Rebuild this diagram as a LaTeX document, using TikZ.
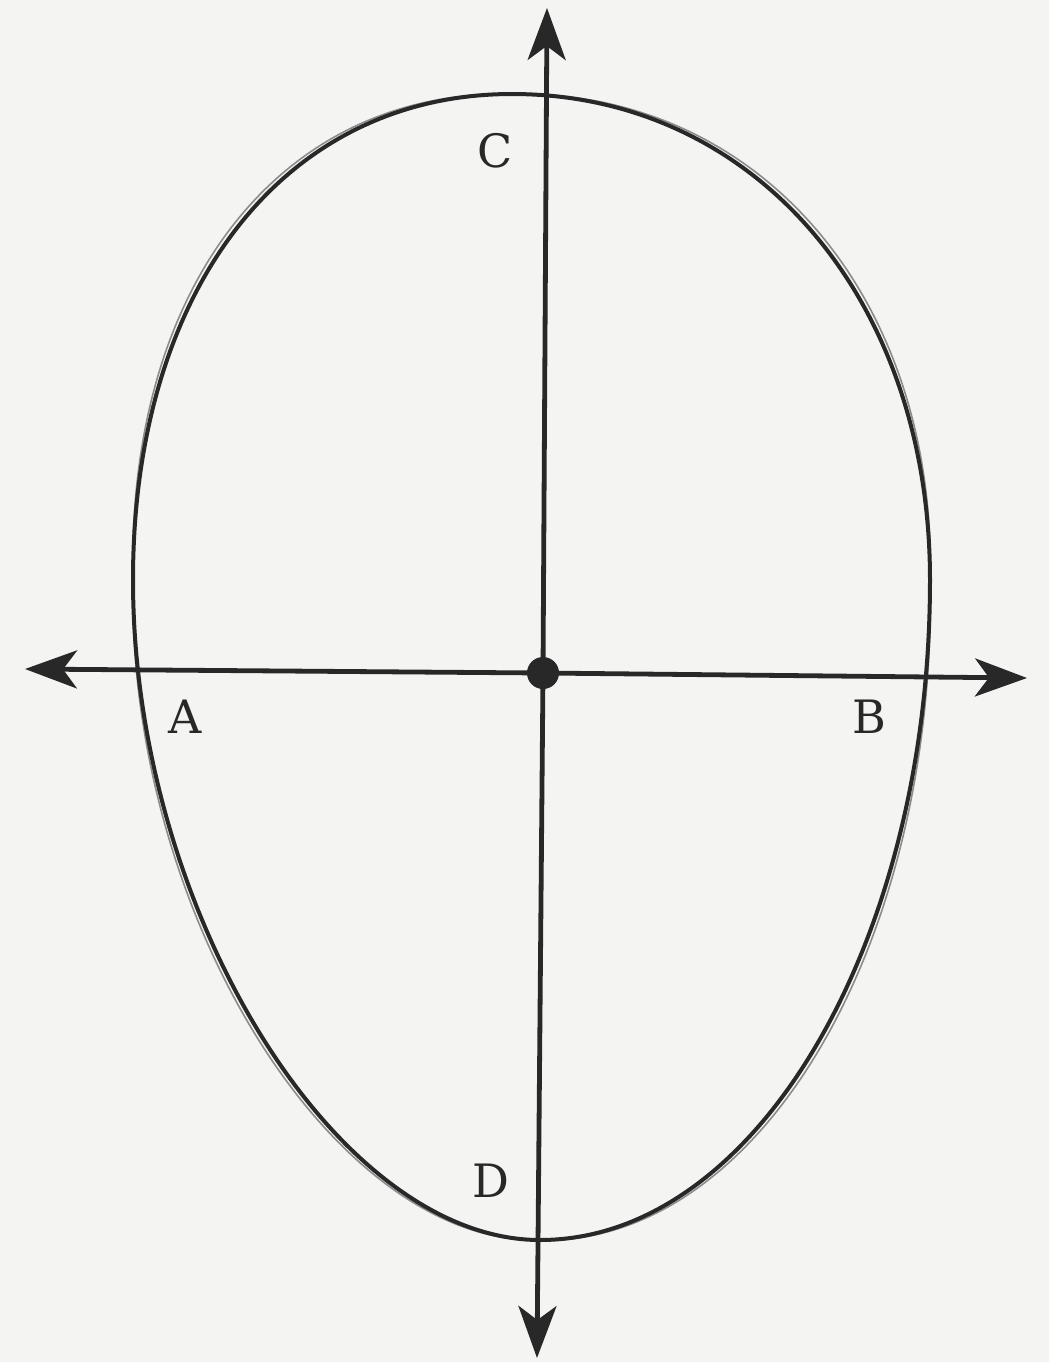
\documentclass[tikz,border=0pt]{standalone}
\usepackage{fontspec}
\usepackage{tikz}
\usetikzlibrary{arrows.meta}
\newfontfamily\lblfont{DejaVu Serif}
\definecolor{paper}{RGB}{244,245,242}
\definecolor{ink}{RGB}{40,40,40}
\definecolor{ghost}{RGB}{140,140,140}

\begin{document}
\begin{tikzpicture}[
  x=0.5pt, y=-0.5pt,
  >={Stealth[length=26pt, width=19pt, inset=7pt]},
  axis/.style={draw=ink, line width=2.4pt, ->},
  egg/.style={draw=ink, line width=2pt},
  eggghost/.style={draw=ghost, line width=0.8pt},
  lbl/.style={text=ink, font=\lblfont\fontsize{23}{28}\selectfont, inner sep=0pt},
]

% ---- paper ----
\fill[paper] (0,0) rectangle (1049,1362);
\useasboundingbox (0,0) rectangle (1049,1362);

% ---- the egg outline ----
\coordinate (top) at (512,94);
\coordinate (rgt) at (930,580);
\coordinate (bot) at (540,1240);
\coordinate (lft) at (133,580);

\begin{scope}[shift={(535,650)}, xscale=1.016, yscale=1.008, shift={(-535,-650)}]
\path[eggghost] (top) .. controls (754,94) and (930,298) .. (rgt)
  .. controls (930,944) and (755,1240) .. (bot)
  .. controls (336,1240) and (133,910) .. (lft)
  .. controls (133,289) and (284,94) .. (top) -- cycle;
\end{scope}

\path[egg] (top) .. controls (754,94) and (930,298) .. (rgt)
  .. controls (930,944) and (755,1240) .. (bot)
  .. controls (336,1240) and (133,910) .. (lft)
  .. controls (133,289) and (284,94) .. (top) -- cycle;

% ---- the axes ----
\coordinate (xw) at (25,669);
\coordinate (xe) at (1027,678);
\coordinate (yn) at (547,8);
\coordinate (ys) at (537,1358);
\node[circle, fill=ink, minimum size=16pt, inner sep=0pt] (O) at (543,673) {};

\draw[axis] (O.center) -- (xw);
\draw[axis] (O.center) -- (xe);
\draw[axis] (O.center) -- (yn);
\draw[axis] (O.center) -- (ys);

% ---- labels ----
\node[lbl] (C) at (495,151) {C};
\node[lbl] (A) at (185,717) {A};
\node[lbl] (B) at (869,717) {B};
\node[lbl] (D) at (491,1181) {D};

\end{tikzpicture}
\end{document}
